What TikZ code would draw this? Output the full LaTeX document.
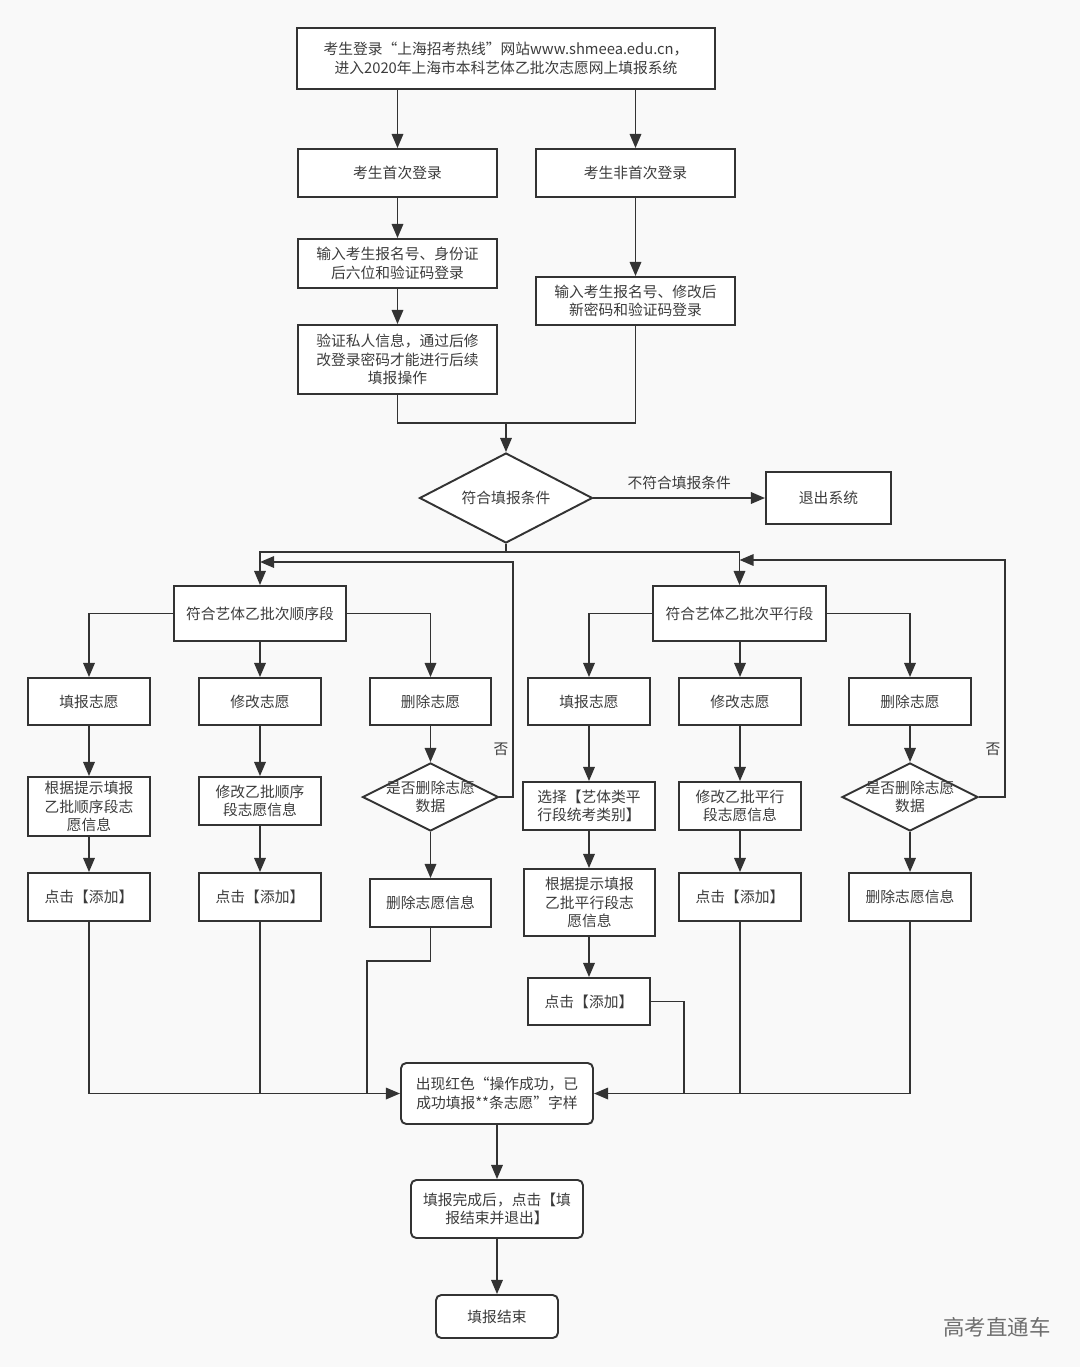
\documentclass[tikz,border=0pt]{standalone}
\usepackage{fontspec}
\setmainfont{Noto Sans CJK SC}
\usetikzlibrary{arrows.meta,shapes.geometric}
\definecolor{bg}{RGB}{249,249,249}
\definecolor{ln}{RGB}{51,51,51}
\definecolor{tx}{RGB}{60,60,60}
\definecolor{wm}{RGB}{110,110,110}
\tikzset{
  box/.style={draw=ln, fill=white, line width=1.1pt, inner sep=0pt, align=center,
    text=tx, font=\fontsize{8.4}{10.4}\selectfont},
  rbox/.style={box, rounded corners=3pt},
  dia/.style={box, diamond},
  sz/.style 2 args={minimum width=#1*0.02cm, minimum height=#2*0.02cm},
  conn/.style={draw=ln, line width=1.1pt},
  arr/.style={conn, -{Triangle[length=8pt,width=6.5pt]}},
  lbl/.style={text=tx, font=\fontsize{8.4}{10.4}\selectfont, inner sep=1pt, align=center}
}
\begin{document}
\begin{tikzpicture}[x=0.02cm,y=-0.02cm]
\fill[bg] (0,0) rectangle (1080,1367);
\useasboundingbox (0,0) rectangle (1080,1367);
% nodes
\node[box,sz={418}{61}] (top) at (506,58.5) {考生登录“上海招考热线”网站www.shmeea.edu.cn，\\进入2020年上海市本科艺体乙批次志愿网上填报系统};
\node[box,sz={199}{48}] (first) at (397.5,173) {考生首次登录};
\node[box,sz={199}{48}] (nonfirst) at (635.5,173) {考生非首次登录};
\node[box,sz={199}{49}] (in1) at (397.5,263.5) {输入考生报名号、身份证\\后六位和验证码登录};
\node[box,sz={199}{69}] (verify) at (397.5,359.5) {验证私人信息，通过后修\\改登录密码才能进行后续\\填报操作};
\node[box,sz={199}{48}] (in2) at (635.5,301) {输入考生报名号、修改后\\新密码和验证码登录};
\node[dia,sz={173}{90},label={[lbl]center:符合填报条件}] (cond) at (506,498) {};
\node[box,sz={125}{52}] (exit) at (828.5,498) {退出系统};
\node[box,sz={172}{55}] (seq) at (260,613.5) {符合艺体乙批次顺序段};
\node[box,sz={173}{55}] (par) at (739.5,613.5) {符合艺体乙批次平行段};
% row 2
\node[box,sz={122}{47}] (fillL) at (89,701.5) {填报志愿};
\node[box,sz={122}{47}] (modL) at (260,701.5) {修改志愿};
\node[box,sz={121}{47}] (delL) at (430.5,701.5) {删除志愿};
\node[box,sz={122}{47}] (fillR) at (589,701.5) {填报志愿};
\node[box,sz={122}{47}] (modR) at (740,701.5) {修改志愿};
\node[box,sz={122}{47}] (delR) at (910,701.5) {删除志愿};
% row 3
\node[box,sz={122}{59}] (hintL) at (89,806.5) {根据提示填报\\乙批顺序段志\\愿信息};
\node[box,sz={122}{48}] (modinfoL) at (260,801) {修改乙批顺序\\段志愿信息};
\node[dia,sz={136}{68},label={[lbl]center:是否删除志愿\\数据}] (dL) at (430.5,797) {};
\node[box,sz={132}{48}] (selR) at (589,806) {选择【艺体类平\\行段统考类别】};
\node[box,sz={122}{48}] (modinfoR) at (740,806) {修改乙批平行\\段志愿信息};
\node[dia,sz={136}{68},label={[lbl]center:是否删除志愿\\数据}] (dR) at (910,797) {};
% row 4
\node[box,sz={122}{48}] (addL1) at (89,897) {点击【添加】};
\node[box,sz={122}{48}] (addL2) at (260,897) {点击【添加】};
\node[box,sz={121}{48}] (delinfoL) at (430.5,903) {删除志愿信息};
\node[box,sz={131}{67}] (hintR) at (589.5,902.5) {根据提示填报\\乙批平行段志\\愿信息};
\node[box,sz={122}{48}] (addR2) at (740,897) {点击【添加】};
\node[box,sz={122}{48}] (delinfoR) at (910,897) {删除志愿信息};
\node[box,sz={122}{47}] (addR1) at (589,1001.5) {点击【添加】};
% bottom
\node[rbox,sz={192}{61}] (result) at (497,1093.5) {出现红色“操作成功，已\\成功填报**条志愿”字样};
\node[rbox,sz={172}{58}] (done) at (497,1209) {填报完成后，点击【填\\报结束并退出】};
\node[rbox,sz={122}{43}] (end) at (497,1316.5) {填报结束};
\node[text=wm, font=\fontsize{12.2}{14}\selectfont, inner sep=0pt] (wmk) at (997,1327) {高考直通车};
% coordinates
\coordinate (m) at (506,423);
\coordinate (s) at (506,552);
\coordinate (lpL) at (513,562);
\coordinate (lpR) at (1005,560);
\coordinate (kL) at (367,961);
\coordinate (kR) at (684,1093.5);
% connectors top
\draw[arr] (first |- top.south) -- (first.north);
\draw[arr] (nonfirst |- top.south) -- (nonfirst.north);
\draw[arr] (first.south) -- (in1.north);
\draw[arr] (in1.south) -- (verify.north);
\draw[arr] (nonfirst.south) -- (in2.north);
\draw[conn] (verify.south) |- (m);
\draw[conn] (in2.south) |- (m);
\draw[arr] (m) -- (cond.north);
\draw[arr] (cond.east) -- node[lbl, above=3pt] {不符合填报条件} (exit.west);
\draw[conn] (cond.south) -- (s);
\draw[arr] (s) -| (seq.north);
\draw[arr] (s) -| (par.north);
% branches
\draw[arr] (seq.west) -| (fillL.north);
\draw[arr] (seq.south) -- (modL.north);
\draw[arr] (seq.east) -| (delL.north);
\draw[arr] (par.west) -| (fillR.north);
\draw[arr] (par.south -| modR) -- (modR.north);
\draw[arr] (par.east) -| (delR.north);
% columns
\draw[arr] (fillL.south) -- (hintL.north);
\draw[arr] (hintL.south) -- (addL1.north);
\draw[arr] (modL.south) -- (modinfoL.north);
\draw[arr] (modinfoL.south) -- (addL2.north);
\draw[arr] (delL.south) -- (dL.north);
\draw[arr] (dL.south) -- (delinfoL.north);
\draw[arr] (fillR.south) -- (selR.north);
\draw[arr] (selR.south) -- (selR.south |- hintR.north);
\draw[arr] (hintR.south -| addR1) -- (addR1.north);
\draw[arr] (modR.south) -- (modinfoR.north);
\draw[arr] (modinfoR.south) -- (addR2.north);
\draw[arr] (delR.south) -- (dR.north);
\draw[arr] (dR.south) -- (delinfoR.north);
% loops
\draw[arr] (dL.east) -| (lpL) -- (seq.north |- lpL);
\node[lbl] (noL) at (501,749) {否};
\draw[arr] (dR.east) -| (lpR) -- (par.north |- lpR);
\node[lbl] (noR) at (993,749) {否};
% merge into result
\draw[arr] (addL1.south) |- (result.west);
\draw[conn] (addL2.south) -- (addL2 |- result.west);
\draw[conn] (delinfoL.south) |- (kL) -- (kL |- result.west);
\draw[arr] (delinfoR.south) |- (result.east);
\draw[conn] (addR2.south) -- (addR2 |- result.east);
\draw[conn] (addR1.east) -| (kR);
% final
\draw[arr] (result.south) -- (done.north);
\draw[arr] (done.south) -- (end.north);
\end{tikzpicture}
\end{document}
